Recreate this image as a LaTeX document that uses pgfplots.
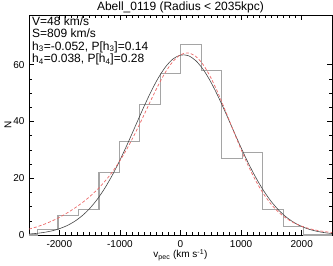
\documentclass[border=0pt]{standalone}
\usepackage{fontspec}
\setmainfont{Liberation Sans}
\usepackage{pgfplots}
\pgfplotsset{compat=1.18}
\definecolor{histgray}{RGB}{165,165,165}
\definecolor{fitred}{RGB}{236,105,105}
\definecolor{fitblack}{RGB}{70,70,70}
\begin{document}
\begin{tikzpicture}
\begin{axis}[name=ax, scale only axis, width=303pt, height=220pt,
  xmin=-2500, xmax=2500, ymin=0, ymax=77.5,
  xtick={-2000,-1000,0,1000,2000}, ytick={0,20,40,60},
  minor x tick num=9, minor y tick num=3,
  tick align=inside, major tick length=5pt, minor tick length=2.8pt,
  axis line style={black, line width=0.6pt},
  every tick/.style={black, line width=0.5pt},
  ticklabel style={font=\fontsize{10}{12}\selectfont},
  xticklabel style={yshift=-2pt},
  yticklabel style={xshift=-1pt},
  /pgf/number format/assume math mode=true,
  /pgf/number format/1000 sep={},
  clip=true]
\addplot[const plot, histgray, line width=1.2pt] coordinates {
(-2500,0) (-2360,2) (-2022,7) (-1684,9) (-1346,22) (-1008,33) (-670,46)
(-332,57) (6,67) (344,58) (682,27) (1020,29) (1358,9) (1696,3) (2034,0) (2500,0)};
\addplot[fitblack, line width=0.6pt, smooth] coordinates {
(-2500,0.35) (-2375,0.575) (-2250,0.923) (-2125,1.44) (-2000,2.21) (-1875,3.28)
(-1750,4.76) (-1625,6.75) (-1500,9.31) (-1375,12.54) (-1250,16.47) (-1125,21.09)
(-1000,26.34) (-875,32.09) (-750,38.13) (-625,44.18) (-500,49.92) (-375,55.02)
(-250,59.14) (-125,62.0) (0,63.38) (125,63.2) (250,61.46) (375,58.29) (500,53.91)
(625,48.63) (750,42.79) (875,36.71) (1000,30.72) (1125,25.07) (1250,19.96)
(1375,15.49) (1500,11.73) (1625,8.66) (1750,6.24) (1875,4.38) (2000,3.00)
(2125,2.00) (2250,1.31) (2375,0.83) (2500,0.51)};
\addplot[fitred, line width=0.7pt, dash pattern=on 3pt off 2pt, smooth] coordinates {
(-2500,2.08) (-2375,2.84) (-2250,3.78) (-2125,4.90) (-2000,6.21) (-1875,7.71)
(-1750,9.41) (-1625,11.33) (-1500,13.49) (-1375,15.98) (-1250,18.86) (-1125,22.22)
(-1000,26.15) (-875,30.68) (-750,35.77) (-625,41.27) (-500,46.94) (-375,52.42)
(-250,57.29) (-125,61.11) (0,63.49) (125,64.14) (250,62.95) (375,59.98) (500,55.45)
(625,49.74) (750,43.31) (875,36.61) (1000,30.09) (1125,24.06) (1250,18.78)
(1375,14.33) (1500,10.74) (1625,7.93) (1750,5.81) (1875,4.23) (2000,3.08)
(2125,2.25) (2250,1.65) (2375,1.21) (2500,0.88)};
\end{axis}
\node[anchor=north west, align=left, inner sep=0pt, font=\fontsize{12}{12.4}\selectfont]
  at ([xshift=3pt,yshift=-1.5pt]ax.north west)
  {V=48 km/s\\S=809 km/s\\h\textsubscript{3}=-0.052, P[h\textsubscript{3}]=0.14\\h\textsubscript{4}=0.038, P[h\textsubscript{4}]=0.28};
\node[anchor=base, font=\fontsize{12}{14}\selectfont] at ([yshift=4pt]ax.north) {Abell\_0119 (Radius < 2035kpc)};
\node[anchor=center, font=\fontsize{10}{12}\selectfont] at ([yshift=-20pt]ax.south) {v\textsubscript{pec} (km s\textsuperscript{-1})};
\node[anchor=center, rotate=90, font=\fontsize{10}{12}\selectfont] at ([xshift=-21pt]ax.west) {N};
\pgfresetboundingbox
\path ([xshift=-29pt,yshift=-30pt]ax.south west) rectangle ([xshift=1pt,yshift=15pt]ax.north east);
\end{tikzpicture}
\end{document}
